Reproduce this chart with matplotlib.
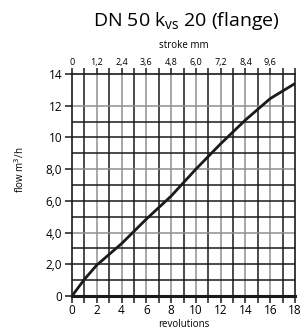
import matplotlib
matplotlib.use("Agg")
import matplotlib.pyplot as plt
import numpy as np

# Data
revolutions = [0, 1, 2, 4, 6, 8, 10, 12, 14, 16, 18]
flow = [0, 1.05, 1.95, 3.3, 4.85, 6.3, 8.0, 9.6, 11.1, 12.45, 13.4]
x_ticks = [0, 2, 4, 6, 8, 10, 12, 14, 16, 18]
x_labels = ["0", "2", "4", "6", "8", "10", "12", "14", "16", "18"]
y_ticks = [0, 2, 4, 6, 8, 10, 12, 14]
y_labels = ["0", "2,0", "4,0", "6,0", "8,0", "10", "12", "14"]
stroke_pos = [0, 2, 4, 6, 8, 10, 12, 14, 16]
stroke_labels = ["0", "1,2", "2,4", "3,6", "4,8", "6,0", "7,2", "8,4", "9,6"]
h_grid = [1, 2, 3, 4, 5, 6, 7, 8, 9, 10, 11, 12]
v_grid = list(range(1, 18))

plt.rcParams['font.family'] = ['Open Sans', 'DejaVu Sans']

fig = plt.figure(figsize=(3.02, 3.36), dpi=100)
ax = fig.add_axes([72/302, 1-296/336, (295-72)/302, (296-74)/336])
ax.set_xlim(0, 18)
ax.set_ylim(0, 14)

dark = "#1a1a1a"
gray = "#8f8f8f"
for v in v_grid:
    ax.axvline(v, color=gray if v % 2 == 0 else dark, lw=1.1, zorder=1)
for h in h_grid:
    ax.axhline(h, color=gray if h % 4 == 0 else dark, lw=1.1, zorder=1)

ax.plot(revolutions, flow, color="#1a1a1a", lw=2.0, zorder=3, solid_capstyle="round")

for s in ["left", "right", "top"]:
    ax.spines[s].set_color(dark)
    ax.spines[s].set_linewidth(1.2)
ax.spines["bottom"].set_color(dark)
ax.spines["bottom"].set_linewidth(2.2)

ax.set_xticks(range(0, 19))
ax.set_xticklabels([str(v) if v % 2 == 0 else "" for v in range(0, 19)], fontsize=8.5)
ax.set_yticks(y_ticks)
ax.set_yticklabels(y_labels, fontsize=8.5)
ax.tick_params(axis="x", direction="out", length=5, width=1.1, color=dark, pad=1)
ax.tick_params(axis="y", direction="out", length=5, width=1.1, color=dark, pad=2)

ax2 = ax.twiny()
ax2.set_xlim(0, 18)
ax2.set_xticks(range(0, 19))
lbls = {p: l for p, l in zip(stroke_pos, stroke_labels)}
ax2.set_xticklabels([lbls.get(v, "") for v in range(0, 19)], fontsize=6.5)
ax2.tick_params(axis="x", direction="out", length=4, width=1.1, color=dark, pad=1)
for s in ax2.spines.values():
    s.set_visible(False)

ax.set_xlabel("revolutions", fontsize=7, labelpad=1)
fig.text(20/302, 1-170/336, "flow m$^3$/h", rotation=90, fontsize=7, ha="center", va="center")
fig.text(183.5/302, 1-46/336, "stroke mm", fontsize=7, ha="center", va="center")
fig.text(186/302, 1-21/336, "DN 50 k$_{\\mathregular{vs}}$ 20 (flange)", fontsize=14, ha="center", va="center")

fig.savefig("out.png", dpi=100)
